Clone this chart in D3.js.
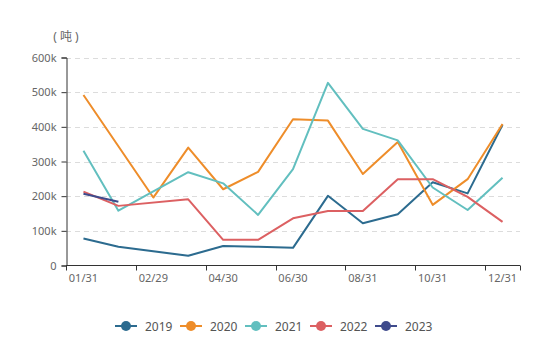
<!DOCTYPE html>
<html lang="zh">

<head>
    <meta charset="UTF-8">
    <title>库存</title>
    <script src="https://d3js.org/d3.v7.min.js"></script>
    <style>
        body { margin: 0; background: #fff; }
        text { font-family: "Noto Sans", "Noto Sans CJK SC", sans-serif; }
    </style>
</head>

<body>
    <script>
        // month-end categories (02/28 and 02/29 both kept, as the data has both)
        var dates = ["01/31", "02/28", "02/29", "03/31", "04/30", "05/31", "06/30",
            "07/31", "08/31", "09/30", "10/31", "11/30", "12/31"];
        var years = ["2019", "2020", "2021", "2022", "2023"];
        var colors = ["#2c6b8f", "#ee8d2a", "#62bfbf", "#dc6062", "#3f4b8c"];
        var yTicks = [0, 100000, 200000, 300000, 400000, 500000, 600000];

        // 吨
        var v2019 = [78000, 54000, null, 28000, 56000, 54000, 51000, 201000, 122000, 148000, 240000, 208000, 406000];
        var v2020 = [492000, null, 196000, 340000, 220000, 270000, 422000, 418000, 264000, 356000, 175000, 249000, 408000];
        var v2021 = [331000, 158000, null, 269000, 237000, 146000, 278000, 527000, 394000, 361000, 225000, 160000, 253000];
        var v2022 = [213000, 172000, null, 191000, 74000, 74000, 136000, 157000, 157000, 249000, 249000, 198000, 126000];
        var v2023 = [207000, 184000, null, null, null, null, null, null, null, null, null, null, null];
        var series = [v2019, v2020, v2021, v2022, v2023];

        var width = 550, height = 342;
        var svg = d3.select("body").append("svg")
            .attr("width", width)
            .attr("height", height);

        var x = d3.scaleBand().domain(dates).range([66, 520]).padding(0);
        var y = d3.scaleLinear().domain([0, 600000]).range([265.5, 57.5]);
        var cx = function (d) { return x(d) + x.bandwidth() / 2; };

        // dashed grid
        svg.append("g").selectAll("line")
            .data(yTicks.slice(1))
            .enter().append("line")
            .attr("x1", 66).attr("x2", 520)
            .attr("y1", function (d) { return Math.round(y(d)) + 0.5; })
            .attr("y2", function (d) { return Math.round(y(d)) + 0.5; })
            .attr("stroke", "#dcdcdc")
            .attr("stroke-dasharray", "5,4");

        // y axis
        var yAxis = svg.append("g")
            .attr("transform", "translate(66.5,0)")
            .call(d3.axisLeft(y).tickValues(yTicks).tickSize(5).tickPadding(5)
                .tickFormat(function (d) { return d === 0 ? "0" : (d / 1000) + "k"; }));
        yAxis.select(".domain").attr("stroke", "#333");
        yAxis.selectAll(".tick line").attr("stroke", "#333");
        yAxis.selectAll("text").attr("fill", "#666").style("font-size", "11px");

        svg.append("text")
            .attr("x", 66).attr("y", 41)
            .attr("text-anchor", "middle")
            .attr("fill", "#666")
            .style("font-size", "12px")
            .text("( 吨 )");

        // x axis: ticks on band edges, labels on every other category
        var xg = svg.append("g");
        xg.append("line")
            .attr("x1", 66).attr("x2", 520)
            .attr("y1", 265.5).attr("y2", 265.5)
            .attr("stroke", "#333");
        var tickCats = dates.filter(function (d, i) { return i % 2 === 0; });
        var tickX = tickCats.map(function (d) { return x(d); }).concat([520]);
        xg.selectAll(".xt").data(tickX).enter().append("line")
            .attr("x1", function (d) { return Math.round(d) + 0.5; })
            .attr("x2", function (d) { return Math.round(d) + 0.5; })
            .attr("y1", 265.5).attr("y2", 270.5)
            .attr("stroke", "#333");
        xg.selectAll(".xl").data(tickCats).enter().append("text")
            .attr("x", cx)
            .attr("y", 282)
            .attr("text-anchor", "middle")
            .attr("fill", "#666")
            .style("font-size", "11px")
            .text(function (d) { return d; });

        // lines, nulls skipped and joined
        var line = d3.line()
            .x(function (d) { return cx(d.date); })
            .y(function (d) { return y(d.value); });

        series.forEach(function (vals, k) {
            var pts = [];
            vals.forEach(function (v, i) {
                if (v !== null) pts.push({ date: dates[i], value: v });
            });
            svg.append("path")
                .datum(pts)
                .attr("d", line)
                .attr("fill", "none")
                .attr("stroke", colors[k])
                .attr("stroke-width", 2)
                .attr("stroke-linejoin", "round");
        });

        // legend
        var legend = svg.append("g").attr("transform", "translate(0,326)");
        var item = legend.selectAll("g").data(years).enter().append("g")
            .attr("transform", function (d, i) { return "translate(" + (115 + i * 65) + ",0)"; });
        item.append("line")
            .attr("x1", 0).attr("x2", 22)
            .attr("stroke", function (d, i) { return colors[i]; })
            .attr("stroke-width", 2);
        item.append("circle")
            .attr("cx", 11).attr("r", 5)
            .attr("fill", function (d, i) { return colors[i]; });
        item.append("text")
            .attr("x", 30).attr("y", 4.5)
            .attr("fill", "#555")
            .style("font-size", "12px")
            .text(function (d) { return d; });
    </script>
</body>

</html>
